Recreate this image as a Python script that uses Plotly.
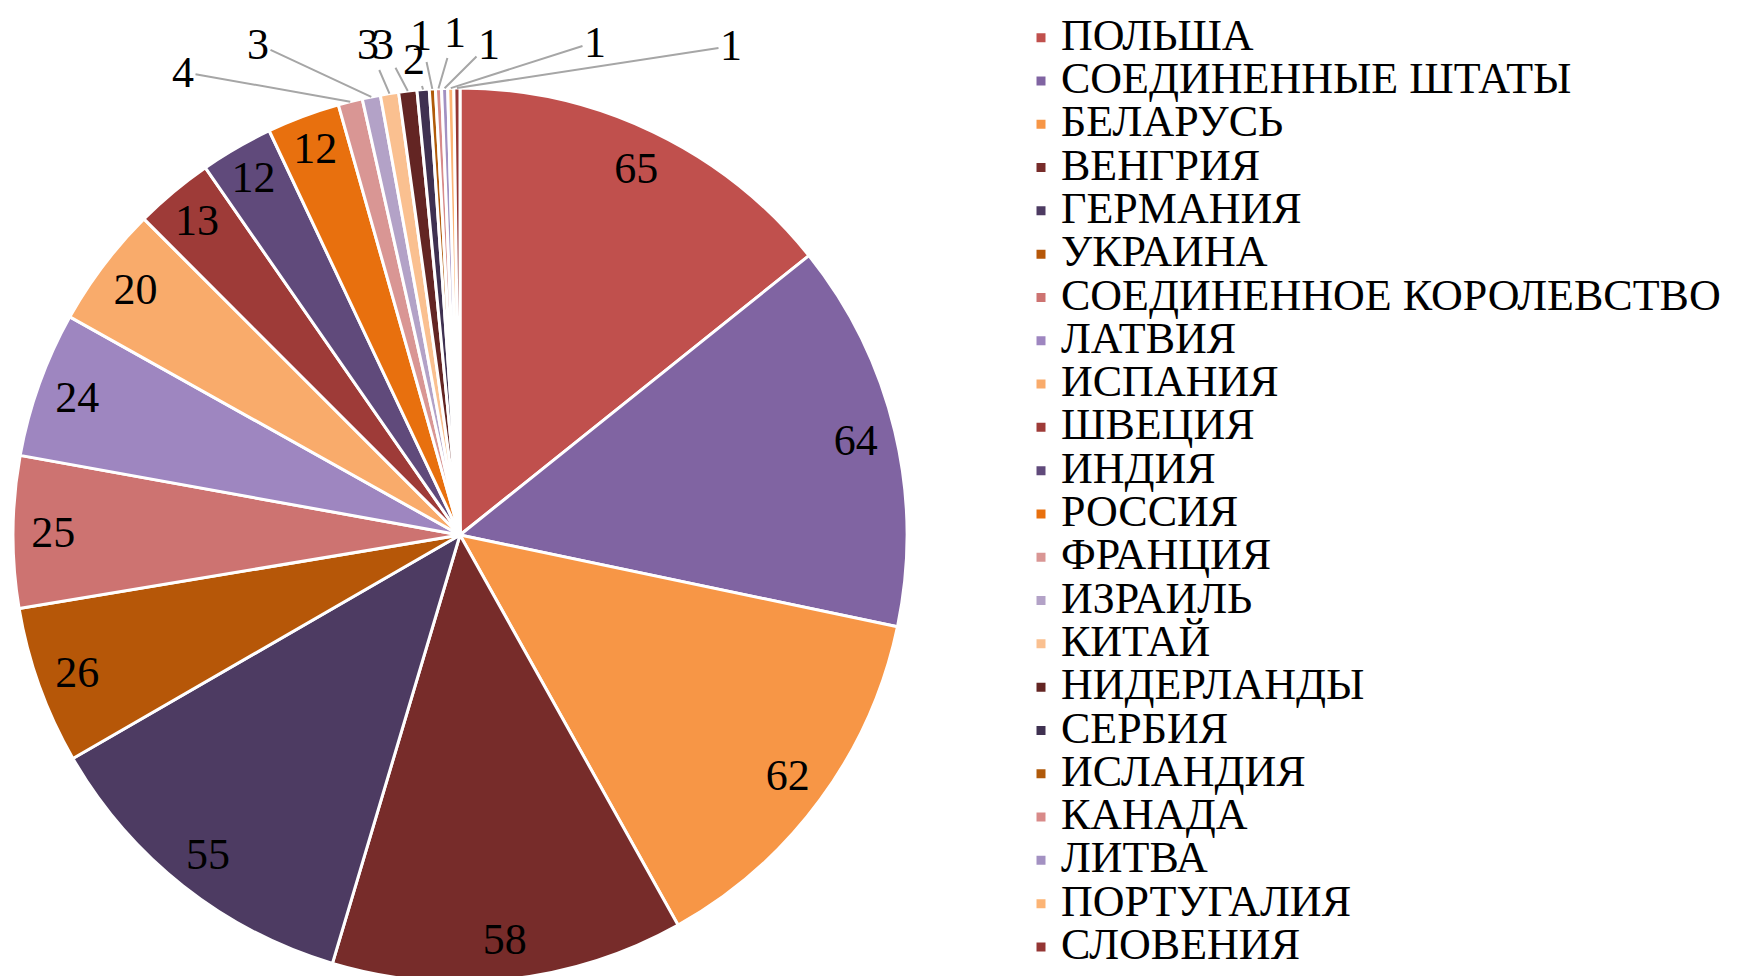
import numpy as np
import plotly.graph_objects as go

# ---------------- data ----------------
countries = ["ПОЛЬША", "СОЕДИНЕННЫЕ ШТАТЫ", "БЕЛАРУСЬ", "ВЕНГРИЯ", "ГЕРМАНИЯ", "УКРАИНА",
             "СОЕДИНЕННОЕ КОРОЛЕВСТВО", "ЛАТВИЯ", "ИСПАНИЯ", "ШВЕЦИЯ", "ИНДИЯ", "РОССИЯ",
             "ФРАНЦИЯ", "ИЗРАИЛЬ", "КИТАЙ", "НИДЕРЛАНДЫ", "СЕРБИЯ", "ИСЛАНДИЯ", "КАНАДА",
             "ЛИТВА", "ПОРТУГАЛИЯ", "СЛОВЕНИЯ"]
counts = [65, 64, 62, 58, 55, 26, 25, 24, 20, 13, 12, 12, 4, 3, 3, 3, 2, 1, 1, 1, 1, 1]

# ---------------- styles ----------------
colors = ["#C0504D", "#8064A2", "#F79646", "#772C2A", "#4D3B62", "#B65708",
          "#CD7371", "#9E86C0", "#F9AB6B", "#9E3B38", "#604A7B", "#E8700E",
          "#D99694", "#B3A2C7", "#FAC090", "#632523", "#3F3151", "#B05A0A",
          "#D88A89", "#A391C2", "#FCB475", "#943634"]

FONT = "Liberation Serif, Times New Roman, serif"
W, H = 1737, 976
PAGE = 8                           # default page margin around the plot div
CX, CY, R = 460, 535, 447          # pie centre / radius on screen (layout)
INSIDE_MIN = 12                    # values drawn inside their slice
LABEL_SIZE = 44
LEGEND_TEXT_SIZE = 44
# label placement on screen for the small slices, in slice order
small_label_xy = [(183, 72), (258, 44), (368, 44), (383, 44), (414, 60),
                  (421, 36), (455, 32), (489, 44), (595, 42), (731, 46)]

cx, cy = CX - PAGE, CY - PAGE      # figure coordinates
vals = np.array(counts, dtype=float)
inside_text = [str(v) if v >= INSIDE_MIN else "" for v in counts]
legend_labels = [f"<span style='font-size:{LEGEND_TEXT_SIZE}px'>{c}</span>" for c in countries]

dom_x = [max(0.0, (cx - R) / W), min(1.0, (cx + R) / W)]
dom_y = [max(0.0, 1 - (cy + R) / H), min(1.0, 1 - (cy - R) / H)]

fig = go.Figure()
# coloured slices + legend
fig.add_trace(go.Pie(
    labels=legend_labels, values=counts, sort=False, direction="clockwise", rotation=0,
    marker=dict(colors=colors, line=dict(color="white", width=3)),
    textinfo="none", hovertext=countries, hoverinfo="text+value",
    domain=dict(x=dom_x, y=dom_y), showlegend=True,
))
# transparent ring carrying the value labels near the rim
fig.add_trace(go.Pie(
    labels=legend_labels, values=counts, sort=False, direction="clockwise", rotation=0,
    hole=0.82,
    marker=dict(colors=["rgba(0,0,0,0)"] * len(counts), line=dict(width=0)),
    text=inside_text, textinfo="text",
    textposition=["inside" if v >= INSIDE_MIN else "none" for v in counts],
    insidetextorientation="horizontal",
    textfont=dict(family=FONT, size=LABEL_SIZE, color="black"),
    hoverinfo="skip", domain=dict(x=dom_x, y=dom_y), showlegend=False,
))

# leader-line labels for the small slices, anchored at each slice's rim midpoint
total = vals.sum()
start = np.cumsum(vals) - vals
mid = (start + vals / 2) / total * 2 * np.pi
small_idx = [i for i, v in enumerate(counts) if v < INSIDE_MIN]
annotations = []
for k, i in enumerate(small_idx):
    px = cx + R * np.sin(mid[i])
    py = cy - R * np.cos(mid[i])
    lx, ly = small_label_xy[k]
    lx, ly = lx - PAGE, ly - PAGE
    annotations.append(dict(
        x=px / W, y=1 - py / H, xref="paper", yref="paper",
        ax=lx - px, ay=ly - py, text=str(counts[i]),
        showarrow=True, arrowhead=0, arrowwidth=2, arrowcolor="#A6A6A6",
        font=dict(family=FONT, size=LABEL_SIZE, color="black"),
    ))

fig.update_layout(
    width=W, height=H,
    margin=dict(l=0, r=0, t=0, b=0),
    paper_bgcolor="white", plot_bgcolor="white",
    uniformtext=dict(minsize=LABEL_SIZE, mode="show"),
    annotations=annotations,
    legend=dict(
        x=(1021 - PAGE) / W, y=1 - 3 / H, xanchor="left", yanchor="top",
        font=dict(family=FONT, size=31, color="black"),
        bgcolor="rgba(0,0,0,0)", traceorder="normal",
    ),
)

fig.write_html("out.html")
